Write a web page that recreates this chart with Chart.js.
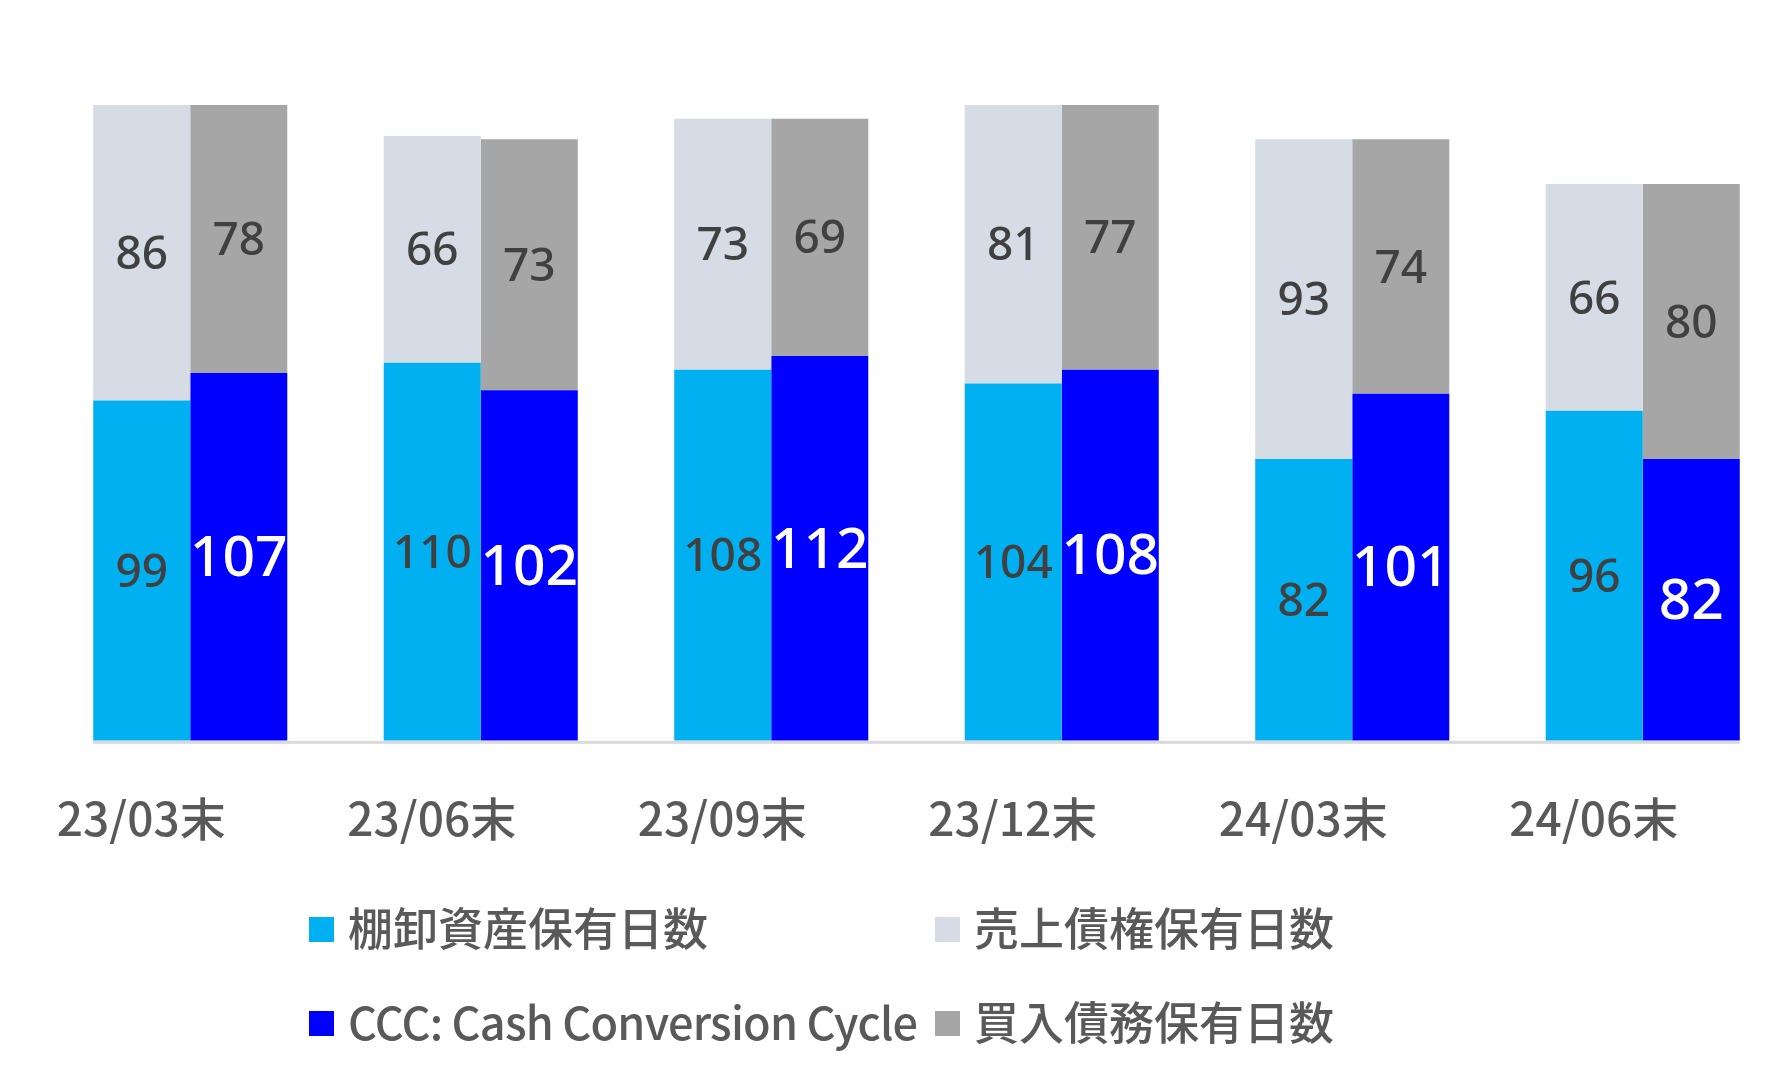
<!DOCTYPE html>
<html><head><meta charset="utf-8">
<script src="https://cdn.jsdelivr.net/npm/chart.js@4.4.0/dist/chart.umd.min.js"></script>
<style>html,body{margin:0;padding:0;background:#fff;} canvas{display:block;}</style>
</head><body>
<canvas id="c" width="1788" height="1081"></canvas>
<script>
const categories = ['23/03末','23/06末','23/09末','23/12末','24/03末','24/06末'];
const inventoryDays = [99,110,108,104,82,96];
const receivableDays = [86,66,73,81,93,66];
const cccDays = [107,102,112,108,101,82];
const payableDays = [78,73,69,77,74,80];
const seriesNames = ['棚卸資産保有日数','売上債権保有日数','CCC: Cash Conversion Cycle','買入債務保有日数'];
const seriesColors = ['#00B0F0','#D6DCE5','#0000FF','#A6A6A6'];
const labelColors = ['#404040','#404040','#FFFFFF','#404040'];
const labelSizes = [46,46,57,46];

const seriesData = [inventoryDays, receivableDays, cccDays, payableDays];
const stacks = ['a','a','b','b'];

const datasets = seriesData.map((d,i)=>({
  label: seriesNames[i], data: d, backgroundColor: seriesColors[i],
  stack: stacks[i], borderWidth: 0, categoryPercentage: 0.668, barPercentage: 1
}));

const valueLabels = {
  id:'valueLabels',
  afterDatasetsDraw(chart){
    const ctx = chart.ctx;
    const m0 = chart.getDatasetMeta(0), m3 = chart.getDatasetMeta(3);
    const first = m0.data[0], last = m3.data[m3.data.length-1];
    const y0 = chart.scales.y.getPixelForValue(0);
    ctx.save();
    ctx.fillStyle = '#D9D9D9';
    ctx.fillRect(first.x - first.width/2, y0, (last.x + last.width/2) - (first.x - first.width/2), 3);
    ctx.textAlign='center'; ctx.textBaseline='middle';
    chart.data.datasets.forEach((ds,i)=>{
      const meta = chart.getDatasetMeta(i);
      ctx.fillStyle = labelColors[i];
      ctx.font = `500 ${labelSizes[i]}px "Noto Sans", "Open Sans", sans-serif`;
      meta.data.forEach((bar,j)=>{
        const p = bar.getProps(['x','y','base'], true);
        ctx.fillText(String(ds.data[j]), p.x, (p.y+p.base)/2 + 3);
      });
    });
    ctx.restore();
  }
};

const gridLegend = {
  id:'gridLegend',
  afterDraw(chart){
    const ctx = chart.ctx;
    const cols = [309, 935], rows = [929, 1023];
    const order = [[0,1],[2,3]];
    ctx.save();
    ctx.textAlign='left'; ctx.textBaseline='middle';
    ctx.font = '500 45px "Noto Sans CJK JP", sans-serif';
    order.forEach((r,ri)=>r.forEach((idx,ci)=>{
      const x = cols[ci], y = rows[ri];
      ctx.fillStyle = seriesColors[idx];
      ctx.fillRect(x, y-12, 25, 25);
      ctx.fillStyle = '#595959';
      const txt = chart.data.datasets[idx].label;
      ctx.letterSpacing = /[A-Za-z]/.test(txt) ? '-0.8px' : '0px';
      ctx.fillText(txt, x+39, y);
    }));
    ctx.restore();
  }
};

new Chart(document.getElementById('c'), {
  type:'bar',
  data:{labels: categories, datasets},
  plugins:[valueLabels, gridLegend],
  options:{
    responsive:false, animation:false, devicePixelRatio:1,
    layout:{padding:{left:45,right:0,top:105,bottom:193}},
    plugins:{legend:{display:false}, tooltip:{enabled:false}},
    scales:{
      x:{stacked:true, grid:{display:false}, border:{display:false},
         ticks:{font:{family:'"Noto Sans CJK JP", sans-serif', size:46, weight:'500'}, color:'#595959', padding:42, labelOffset:-49, maxRotation:0, autoSkip:false}},
      y:{stacked:true, display:false, min:0, max:185}
    }
  }
});
</script>
</body></html>
